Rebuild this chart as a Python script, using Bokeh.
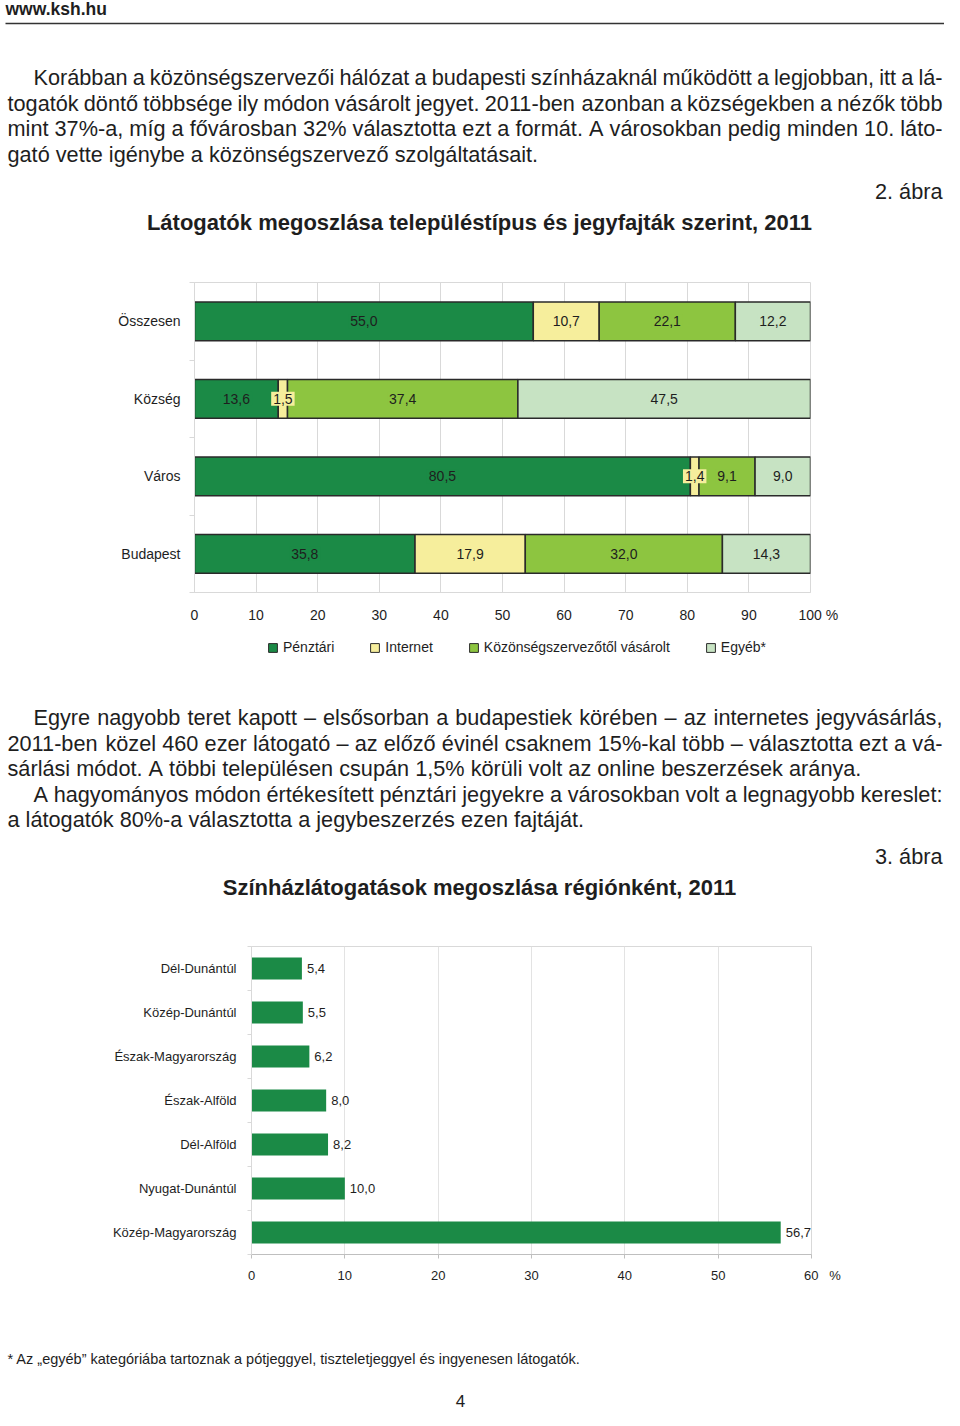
from bokeh.plotting import figure
from bokeh.layouts import column
from bokeh.models import (Range1d, ColumnDataSource, FixedTicker, Legend,
                          LegendItem)
from bokeh.core.properties import value
from bokeh.embed import file_html
from bokeh.resources import INLINE

FONT = "Liberation Sans"
TXT = "#1e1e1e"
PW = 944  # page width in px
BODY = 21.7

# ---------------- data: chart 1 ----------------
cats1 = ["Összesen", "Község", "Város", "Budapest"]
series1 = ["Pénztári", "Internet", "Közönségszervezőtől vásárolt", "Egyéb*"]
penztari = [55.0, 13.6, 80.5, 35.8]
internet = [10.7, 1.5, 1.4, 17.9]
kozonseg = [22.1, 37.4, 9.1, 32.0]
egyeb = [12.2, 47.5, 9.0, 14.3]
colors1 = ["#1b8a46", "#f6ee9c", "#8dc540", "#c7e3c3"]
ticks1 = [0, 10, 20, 30, 40, 50, 60, 70, 80, 90, 100]

# ---------------- data: chart 2 ----------------
regions = ["Dél-Dunántúl", "Közép-Dunántúl", "Észak-Magyarország",
           "Észak-Alföld", "Dél-Alföld", "Nyugat-Dunántúl", "Közép-Magyarország"]
shares = [5.4, 5.5, 6.2, 8.0, 8.2, 10.0, 56.7]
ticks2 = [0, 10, 20, 30, 40, 50, 60]

# ---------------- texts ----------------
para1 = [
    ("Korábban a közönségszervezői hálózat a budapesti színházaknál működött a legjobban, itt a lá-", True, True),
    ("togatók döntő többsége ily módon vásárolt jegyet. 2011-ben azonban a községekben a nézők több", False, True),
    ("mint 37%-a, míg a fővárosban 32% választotta ezt a formát. A városokban pedig minden 10. láto-", False, True),
    ("gató vette igénybe a közönségszervező szolgáltatásait.", False, False),
]
para2 = [
    ("Egyre nagyobb teret kapott – elsősorban a budapestiek körében – az internetes jegyvásárlás,", True, True),
    ("2011-ben közel 460 ezer látogató – az előző évinél csaknem 15%-kal több – választotta ezt a vá-", False, True),
    ("sárlási módot. A többi településen csupán 1,5% körüli volt az online beszerzések aránya.", False, False),
    ("A hagyományos módon értékesített pénztári jegyekre a városokban volt a legnagyobb kereslet:", True, True),
    ("a látogatók 80%-a választotta a jegybeszerzés ezen fajtáját.", False, False),
]
title1 = "Látogatók megoszlása településtípus és jegyfajták szerint, 2011"
title2 = "Színházlátogatások megoszlása régiónként, 2011"
footnote = "* Az „egyéb” kategóriába tartoznak a pótjeggyel, tiszteletjeggyel és ingyenesen látogatók."

# Arial / Liberation Sans advance widths (1/1000 em)
W = {' ': 278, '.': 278, ',': 278, '-': 333, '%': 889, ':': 278, '–': 556,
     'a': 556, 'b': 556, 'c': 500, 'd': 556, 'e': 556, 'f': 278, 'g': 556,
     'h': 556, 'i': 222, 'j': 222, 'k': 500, 'l': 222, 'm': 833, 'n': 556,
     'o': 556, 'p': 556, 'q': 556, 'r': 333, 's': 500, 't': 278, 'u': 556,
     'v': 500, 'w': 722, 'x': 500, 'y': 500, 'z': 500, 'í': 278,
     'A': 667, 'E': 667, 'K': 667, 'L': 556, 'M': 833, 'S': 667, 'T': 611}


def tw(s, size):
    return sum(W.get(ch, 556) for ch in s) * size / 1000.0


def layout_lines(lines, y0, dy, size, x_left=7, x_indent=33, x_right=942):
    xs, ys, ws = [], [], []
    for k, (line, indent, justify) in enumerate(lines):
        y = y0 + k * dy
        x = x_indent if indent else x_left
        words = line.split(" ")
        if justify and len(words) > 1:
            gap = (x_right - x - sum(tw(w, size) for w in words)) / (len(words) - 1)
        else:
            gap = tw(" ", size)
        for w in words:
            xs.append(x)
            ys.append(y)
            ws.append(w)
            x += tw(w, size) + gap
    return dict(x=xs, y=ys, t=ws)


def text_fig(height, ytop):
    p = figure(width=PW, height=height, x_range=Range1d(0, PW),
               y_range=Range1d(ytop + height, ytop), min_border=0,
               toolbar_location=None, output_backend="svg", frame_align=False)
    p.axis.visible = False
    p.grid.visible = False
    p.outline_line_color = None
    return p


def put_text(p, x, y, t, size, align="left", bold=False):
    p.text(x=x, y=y, text=t, text_align=align, text_baseline="middle",
           text_font=value(FONT), text_font_size=f"{size}px",
           text_font_style="bold" if bold else "normal", text_color=TXT)


def fmt(v):
    return f"{v:.1f}".replace(".", ",")


# ---------------- section A (0..262) ----------------
pa = text_fig(262, 0)
put_text(pa, [5], [8], ["www.ksh.hu"], 17.5, bold=True)
pa.segment(x0=[5], y0=[23], x1=[PW], y1=[23], line_color="#333333", line_width=1.5)
src = ColumnDataSource(layout_lines(para1, 77, 25.6, BODY))
pa.text(x="x", y="y", text="t", source=src, text_align="left", text_baseline="middle",
        text_font=value(FONT), text_font_size=f"{BODY}px", text_color=TXT)
put_text(pa, [942], [191], ["2. ábra"], BODY, align="right")
put_text(pa, [479], [222], [title1], 22, align="center", bold=True)

# ---------------- chart 1 (262..632) ----------------
n1 = len(cats1)
ypos1 = [n1 - 1 - i + 0.5 for i in range(n1)]
p1 = figure(width=PW, height=370, x_range=Range1d(0, 100), y_range=Range1d(0, n1),
            min_border_left=194, min_border_right=PW - 810, min_border_top=20,
            min_border_bottom=40, toolbar_location=None, output_backend="svg",
            frame_align=False)
left = [0.0] * n1
sources1 = []
for name, vals, col in zip(series1, [penztari, internet, kozonseg, egyeb], colors1):
    right = [l + v for l, v in zip(left, vals)]
    s = ColumnDataSource(dict(y=ypos1, left=left, right=right,
                              mid=[(l + r) / 2 for l, r in zip(left, right)],
                              lab=[fmt(v) for v in vals]))
    p1.hbar(y="y", left="left", right="right", height=0.5, source=s,
            fill_color=col, line_color="#2a2a2a", line_width=1.5)
    sources1.append((name, s, col))
    left = right
for name, s, col in sources1:
    p1.text(x="mid", y="y", text="lab", source=s, text_align="center",
            text_baseline="middle", text_font=value(FONT), text_font_size="14px",
            text_color=TXT, background_fill_color=col, padding=2)

p1.xaxis.ticker = FixedTicker(ticks=ticks1)
p1.xaxis.major_label_overrides = {ticks1[-1]: "\u2007\u2007" + str(ticks1[-1]) + "\u00a0%"}
p1.xaxis.major_tick_out = 0
p1.xaxis.major_tick_in = 0
p1.xaxis.minor_tick_line_color = None
p1.xaxis.axis_line_color = "#d9d9d9"
p1.xaxis.major_label_standoff = 14
p1.yaxis.ticker = FixedTicker(ticks=ypos1, minor_ticks=list(range(n1 + 1)))
p1.yaxis.major_label_overrides = {y: c for y, c in zip(ypos1, cats1)}
p1.yaxis.major_tick_out = 0
p1.yaxis.major_tick_in = 0
p1.yaxis.minor_tick_out = 5
p1.yaxis.minor_tick_in = 0
p1.yaxis.minor_tick_line_color = "#d9d9d9"
p1.yaxis.axis_line_color = "#d9d9d9"
p1.yaxis.major_label_standoff = 9
for ax in (p1.xaxis, p1.yaxis):
    ax.major_label_text_font = FONT
    ax.major_label_text_font_size = "14px"
    ax.major_label_text_color = TXT
p1.xgrid.ticker = FixedTicker(ticks=ticks1)
p1.xgrid.grid_line_color = "#d9d9d9"
p1.ygrid.visible = False
p1.outline_line_color = "#d9d9d9"

# ---------------- legend strip for chart 1 (632..668) ----------------
pl = figure(width=PW, height=36, x_range=Range1d(0, 100), y_range=Range1d(0, n1),
            min_border=0, toolbar_location=None, output_backend="svg",
            frame_align=False)
pl.axis.visible = False
pl.grid.visible = False
pl.outline_line_color = None
items = []
for name, s, col in sources1:
    r = pl.hbar(y="y", left="left", right="right", height=0.5, source=s,
                fill_color=col, line_color="#2a2a2a", line_width=1, visible=False)
    items.append(LegendItem(label=name, renderers=[r]))
legend = Legend(items=items, orientation="horizontal", location=(267, 13),
                label_text_font=FONT, label_text_font_size="14px",
                label_text_color=TXT, glyph_width=11, glyph_height=11,
                label_standoff=5, spacing=35, padding=0, margin=0,
                border_line_color=None, background_fill_alpha=0, label_height=14,
                inactive_fill_alpha=0, click_policy="none")
pl.add_layout(legend)

# ---------------- section C (668..905) ----------------
pc = text_fig(237, 668)
src2 = ColumnDataSource(layout_lines(para2, 717, 25.5, BODY))
pc.text(x="x", y="y", text="t", source=src2, text_align="left", text_baseline="middle",
        text_font=value(FONT), text_font_size=f"{BODY}px", text_color=TXT)
put_text(pc, [942], [856], ["3. ábra"], BODY, align="right")
put_text(pc, [479], [887], [title2], 22, align="center", bold=True)

# ---------------- chart 2 (905..1300) ----------------
n2 = len(regions)
ypos2 = [n2 - 1 - i + 0.5 for i in range(n2)]
p2 = figure(width=PW, height=395, x_range=Range1d(0, 60), y_range=Range1d(0, n2),
            min_border_left=251, min_border_right=PW - 811, min_border_top=41,
            min_border_bottom=46, toolbar_location=None, output_backend="svg",
            frame_align=False)
s2 = ColumnDataSource(dict(y=ypos2, v=shares, lab=[fmt(v) for v in shares]))
p2.hbar(y="y", left=0, right="v", height=0.5, source=s2, fill_color="#1b8a46",
        line_color=None)
p2.text(x="v", y="y", text="lab", source=s2, x_offset=5, text_align="left",
        text_baseline="middle", text_font=value(FONT), text_font_size="13px",
        text_color=TXT)
p2.xaxis.ticker = FixedTicker(ticks=ticks2)
p2.xaxis.major_label_overrides = {ticks2[-1]: "\u2007\u2007\u2007" + str(ticks2[-1]) + "\u00a0\u00a0\u00a0%"}
p2.xaxis.major_tick_out = 4
p2.xaxis.major_tick_in = 0
p2.xaxis.minor_tick_line_color = None
p2.xaxis.major_tick_line_color = "#bfbfbf"
p2.xaxis.axis_line_color = "#bfbfbf"
p2.xaxis.major_label_standoff = 9
p2.yaxis.ticker = FixedTicker(ticks=ypos2, minor_ticks=list(range(n2 + 1)))
p2.yaxis.major_label_overrides = {y: c for y, c in zip(ypos2, regions)}
p2.yaxis.major_tick_out = 0
p2.yaxis.major_tick_in = 0
p2.yaxis.minor_tick_out = 4
p2.yaxis.minor_tick_in = 0
p2.yaxis.minor_tick_line_color = "#d9d9d9"
p2.yaxis.axis_line_color = "#d9d9d9"
p2.yaxis.major_label_standoff = 11
for ax in (p2.xaxis, p2.yaxis):
    ax.major_label_text_font = FONT
    ax.major_label_text_font_size = "13px"
    ax.major_label_text_color = TXT
p2.xgrid.ticker = FixedTicker(ticks=ticks2)
p2.xgrid.grid_line_color = "#e3e3e3"
p2.ygrid.visible = False
p2.outline_line_color = "#d9d9d9"

# ---------------- section E (1300..1410) ----------------
pe = text_fig(110, 1300)
put_text(pe, [7], [1358], [footnote], 14.5)
put_text(pe, [460], [1400], ["4"], 17, align="center")

page = column(pa, p1, pl, pc, p2, pe, spacing=0)
open("out.html", "w").write(file_html(page, INLINE))
